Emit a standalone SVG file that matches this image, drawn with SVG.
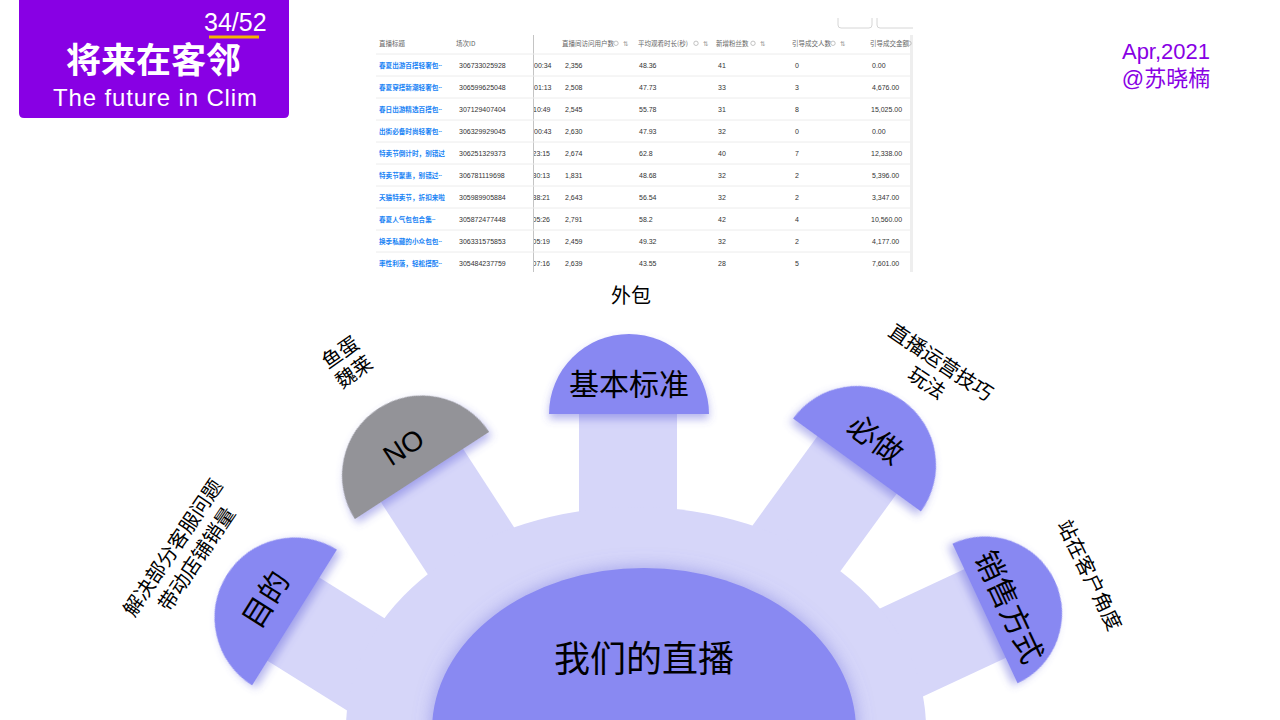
<svg xmlns="http://www.w3.org/2000/svg" width="1280" height="720" viewBox="0 0 1280 720">
<defs>
<style>
.cjk{font-family:"Noto Sans CJK SC","Liberation Sans",sans-serif;}
.lat{font-family:"Liberation Sans","Noto Sans CJK SC",sans-serif;}
.spoke{fill:#d6d6f9;}
.cap{fill:#8888f2;filter:url(#capShadow);}
.capgray{fill:#939398;filter:url(#capShadow);}
.captxt{font-family:"Noto Sans CJK SC",sans-serif;font-size:30px;fill:#000;text-anchor:middle;}
.note{font-family:"Noto Sans CJK SC",sans-serif;font-size:20px;fill:#000;text-anchor:middle;}
.th{font-family:"Noto Sans CJK SC","Liberation Sans",sans-serif;font-size:6.5px;fill:#666;}
.tt{font-family:"Noto Sans CJK SC",sans-serif;font-size:6.6px;fill:#1a84f5;font-weight:bold;}
.tn{font-family:"Liberation Sans",sans-serif;font-size:7px;fill:#333;}
.sep{stroke:#ececec;stroke-width:1;}
.ico{fill:none;stroke:#aaa;stroke-width:0.7;}
.sort{font-family:"DejaVu Sans",sans-serif;font-size:6.5px;fill:#999;}
</style>
<filter id="capShadow" x="-30%" y="-40%" width="160%" height="190%">
<feDropShadow dx="0" dy="5" stdDeviation="4" flood-color="#5a5ad8" flood-opacity="0.45"/>
</filter>
<filter id="hubGlow" x="-20%" y="-20%" width="140%" height="140%">
<feDropShadow dx="0" dy="0" stdDeviation="9" flood-color="#7070dd" flood-opacity="0.55"/>
</filter>
<clipPath id="col3Clip"><rect x="534" y="50" width="28" height="222"/></clipPath>
</defs>

<rect width="1280" height="720" fill="#fff"/>

<!-- header -->
<g id="header">
<path d="M19,0 H289 V113 Q289,118 284,118 H24 Q19,118 19,113 Z" fill="#8800e4"/>
<text class="lat" x="204" y="31" font-size="25" fill="#fff">34/52</text>
<rect x="209" y="35.5" width="50" height="3" fill="#f5b400"/>
<text class="cjk" x="153.5" y="72.5" font-size="35" font-weight="bold" fill="#fff" text-anchor="middle">将来在客邻</text>
<text class="lat" x="53" y="106" font-size="24" fill="#fff" textLength="204" lengthAdjust="spacing">The future in Clim</text>
</g>

<g id="date">
<text class="lat" x="1166" y="59" font-size="22" fill="#8800e4" text-anchor="middle">Apr,2021</text>
<text class="lat" x="1166" y="86" font-size="22" fill="#8800e4" text-anchor="middle">@苏晓楠</text>
</g>

<!-- table screenshot -->
<g id="table">
<path d="M838,18 V25 Q838,28 841,28 H869 Q872,28 872,25 V18" fill="none" stroke="#ccc" stroke-width="0.8"/>
<path d="M877,18 V25 Q877,28 880,28 H913" fill="none" stroke="#ccc" stroke-width="0.8"/>
<line x1="533.5" y1="35" x2="533.5" y2="272" stroke="#c4c4c4" stroke-width="1"/>
<rect x="910" y="35" width="3" height="237" fill="#eeeeee"/>
<g>
<line class="sep" x1="376" y1="54" x2="910" y2="54"/>
<line class="sep" x1="376" y1="76" x2="910" y2="76"/>
<line class="sep" x1="376" y1="98" x2="910" y2="98"/>
<line class="sep" x1="376" y1="120" x2="910" y2="120"/>
<line class="sep" x1="376" y1="142" x2="910" y2="142"/>
<line class="sep" x1="376" y1="164" x2="910" y2="164"/>
<line class="sep" x1="376" y1="186" x2="910" y2="186"/>
<line class="sep" x1="376" y1="208" x2="910" y2="208"/>
<line class="sep" x1="376" y1="230" x2="910" y2="230"/>
<line class="sep" x1="376" y1="252" x2="910" y2="252"/>
</g>
<g>
<text class="th" x="379" y="45.5">直播标题</text>
<text class="th" x="456" y="45.5">场次ID</text>
<text class="th" x="562" y="45.5">直播间访问用户数</text>
<circle class="ico" cx="616" cy="43.3" r="2.2"/>
<text class="sort" x="623" y="46">⇅</text>
<text class="th" x="638" y="45.5">平均观看时长(秒)</text>
<circle class="ico" cx="696" cy="43.3" r="2.2"/>
<text class="sort" x="703" y="46">⇅</text>
<text class="th" x="716" y="45.5">新增粉丝数</text>
<circle class="ico" cx="753" cy="43.3" r="2.2"/>
<text class="sort" x="760" y="46">⇅</text>
<text class="th" x="792" y="45.5">引导成交人数</text>
<circle class="ico" cx="833" cy="43.3" r="2.2"/>
<text class="sort" x="840" y="46">⇅</text>
<text class="th" x="870" y="45.5">引导成交金额</text>
<circle class="ico" cx="909" cy="43.3" r="2.2"/>
</g>
<g>
<text class="tt" x="379" y="67.5">春夏出游百搭轻奢包~</text>
<text class="tt" x="379" y="89.5">春夏穿搭新潮轻奢包~</text>
<text class="tt" x="379" y="111.5">春日出游精选百搭包~</text>
<text class="tt" x="379" y="133.5">出街必备时尚轻奢包~</text>
<text class="tt" x="379" y="155.5">特卖节倒计时，别错过</text>
<text class="tt" x="379" y="177.5">特卖节聚惠，别错过~</text>
<text class="tt" x="379" y="199.5">天猫特卖节，折扣来啦</text>
<text class="tt" x="379" y="221.5">春夏人气包包合集~</text>
<text class="tt" x="379" y="243.5">换季私藏的小众包包~</text>
<text class="tt" x="379" y="265.5">率性利落，轻松搭配~</text>
</g>
<g>
<text class="tn" x="459" y="67.5">306733025928</text>
<text class="tn" x="459" y="89.5">306599625048</text>
<text class="tn" x="459" y="111.5">307129407404</text>
<text class="tn" x="459" y="133.5">306329929045</text>
<text class="tn" x="459" y="155.5">306251329373</text>
<text class="tn" x="459" y="177.5">306781119698</text>
<text class="tn" x="459" y="199.5">305989905884</text>
<text class="tn" x="459" y="221.5">305872477448</text>
<text class="tn" x="459" y="243.5">306331575853</text>
<text class="tn" x="459" y="265.5">305484237759</text>
</g>
<g clip-path="url(#col3Clip)">
<text class="tn" x="534" y="67.5">00:34</text>
<text class="tn" x="534" y="89.5">01:13</text>
<text class="tn" x="533" y="111.5">10:49</text>
<text class="tn" x="534" y="133.5">00:43</text>
<text class="tn" x="532.5" y="155.5">23:15</text>
<text class="tn" x="532.5" y="177.5">30:13</text>
<text class="tn" x="532.5" y="199.5">38:21</text>
<text class="tn" x="532.5" y="221.5">05:26</text>
<text class="tn" x="532.5" y="243.5">05:19</text>
<text class="tn" x="532.5" y="265.5">07:16</text>
</g>
<g>
<text class="tn" x="565" y="67.5">2,356</text>
<text class="tn" x="565" y="89.5">2,508</text>
<text class="tn" x="565" y="111.5">2,545</text>
<text class="tn" x="565" y="133.5">2,630</text>
<text class="tn" x="565" y="155.5">2,674</text>
<text class="tn" x="565" y="177.5">1,831</text>
<text class="tn" x="565" y="199.5">2,643</text>
<text class="tn" x="565" y="221.5">2,791</text>
<text class="tn" x="565" y="243.5">2,459</text>
<text class="tn" x="565" y="265.5">2,639</text>
</g>
<g>
<text class="tn" x="639" y="67.5">48.36</text>
<text class="tn" x="639" y="89.5">47.73</text>
<text class="tn" x="639" y="111.5">55.78</text>
<text class="tn" x="639" y="133.5">47.93</text>
<text class="tn" x="639" y="155.5">62.8</text>
<text class="tn" x="639" y="177.5">48.68</text>
<text class="tn" x="639" y="199.5">56.54</text>
<text class="tn" x="639" y="221.5">58.2</text>
<text class="tn" x="639" y="243.5">49.32</text>
<text class="tn" x="639" y="265.5">43.55</text>
</g>
<g>
<text class="tn" x="718" y="67.5">41</text>
<text class="tn" x="718" y="89.5">33</text>
<text class="tn" x="718" y="111.5">31</text>
<text class="tn" x="718" y="133.5">32</text>
<text class="tn" x="718" y="155.5">40</text>
<text class="tn" x="718" y="177.5">32</text>
<text class="tn" x="718" y="199.5">32</text>
<text class="tn" x="718" y="221.5">42</text>
<text class="tn" x="718" y="243.5">32</text>
<text class="tn" x="718" y="265.5">28</text>
</g>
<g>
<text class="tn" x="795" y="67.5">0</text>
<text class="tn" x="795" y="89.5">3</text>
<text class="tn" x="795" y="111.5">8</text>
<text class="tn" x="795" y="133.5">0</text>
<text class="tn" x="795" y="155.5">7</text>
<text class="tn" x="795" y="177.5">2</text>
<text class="tn" x="795" y="199.5">2</text>
<text class="tn" x="795" y="221.5">4</text>
<text class="tn" x="795" y="243.5">2</text>
<text class="tn" x="795" y="265.5">5</text>
</g>
<g>
<text class="tn" x="872" y="67.5">0.00</text>
<text class="tn" x="872" y="89.5">4,676.00</text>
<text class="tn" x="871" y="111.5">15,025.00</text>
<text class="tn" x="872" y="133.5">0.00</text>
<text class="tn" x="871" y="155.5">12,338.00</text>
<text class="tn" x="872" y="177.5">5,396.00</text>
<text class="tn" x="872" y="199.5">3,347.00</text>
<text class="tn" x="871" y="221.5">10,560.00</text>
<text class="tn" x="872" y="243.5">4,177.00</text>
<text class="tn" x="872" y="265.5">7,601.00</text>
</g>
</g>

<!-- connectors (spokes) -->
<g id="connectors">
<rect class="spoke" transform="translate(628,414)" x="-49" y="-1" width="98" height="250"/>
<rect class="spoke" transform="translate(422,475.5) rotate(-33)" x="-49" y="-1" width="98" height="300"/>
<rect class="spoke" transform="translate(857,465) rotate(36)" x="-49" y="-1" width="98" height="300"/>
<rect class="spoke" transform="translate(294.5,617.5) rotate(-58)" x="-51" y="-1" width="98" height="320"/>
<rect class="spoke" transform="translate(985,613.5) rotate(65)" x="-49" y="-1" width="98" height="320"/>
</g>

<!-- hub -->
<g id="node-hub">
<ellipse class="spoke" cx="636" cy="728" rx="290" ry="221"/>
<ellipse cx="644" cy="730" rx="212" ry="162" fill="#8989f2" filter="url(#hubGlow)"/>
<text class="cjk" x="644" y="672" font-size="36" fill="#000" text-anchor="middle">我们的直播</text>
</g>

<!-- caps -->
<g id="node-basic" transform="translate(629,414)">
<path class="cap" d="M-80,0 A80,80 0 0 1 80,0 Z"/>
<text class="captxt" x="0" y="-19" font-size="31">基本标准</text>
</g>
<g id="node-no" transform="translate(422,475.5) rotate(-33)">
<path class="capgray" d="M-80,0 A80,80 0 0 1 80,0 Z"/>
<text x="0" y="-24" font-family="Liberation Sans,sans-serif" font-size="28" fill="#000" text-anchor="middle">NO</text>
</g>
<g id="node-bizuo" transform="translate(857,465) rotate(36)">
<path class="cap" d="M-79,0 A79,79 0 0 1 79,0 Z"/>
<text class="captxt" x="0" y="-21">必做</text>
</g>
<g id="node-mudi" transform="translate(294.5,617.5) rotate(-58)">
<path class="cap" d="M-80,0 A80,80 0 0 1 80,0 Z"/>
<text class="captxt" x="0" y="-23">目的</text>
</g>
<g id="node-xiaoshou" transform="translate(985,613.5) rotate(65)">
<path class="cap" d="M-77,0 A77,77 0 0 1 77,0 Z"/>
<text class="captxt" x="4" y="-14">销售方式</text>
</g>

<!-- notes -->
<g id="note-waibao">
<text class="note" x="631" y="302.5">外包</text>
</g>
<g id="note-yudan" transform="translate(340,352) rotate(-35)">
<text class="note" x="0" y="7.5">鱼蛋</text>
<text class="note" x="0" y="31.5">魏莱</text>
</g>
<g id="note-zhibo" transform="translate(941,362) rotate(34)">
<text class="note" x="0" y="7.5">直播运营技巧</text>
<text class="note" x="0" y="32.5">玩法</text>
</g>
<g id="note-zhanzai" transform="translate(1090,575) rotate(64)">
<text class="note" x="0" y="7.5">站在客户角度</text>
</g>
<g id="note-jiejue" transform="translate(172.5,547.5) rotate(-56)">
<text class="note" x="0" y="7.5">解决部分客服问题</text>
<text class="note" x="4" y="33.5">带动店铺销量</text>
</g>
</svg>
